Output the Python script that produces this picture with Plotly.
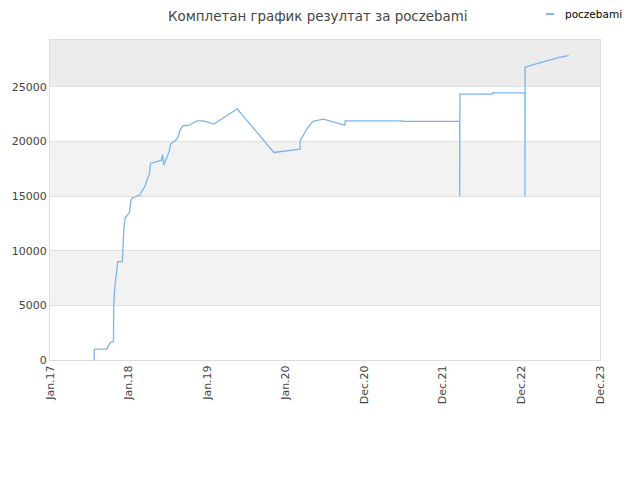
import plotly.graph_objects as go

# score history (dates)
dates = [
    "2017-07-25", "2017-07-26", "2017-08-05", "2017-09-24", "2017-09-28",
    "2017-10-11", "2017-10-23", "2017-10-24", "2017-10-29", "2017-11-05",
    "2017-11-12", "2017-12-03", "2017-12-05", "2017-12-10", "2017-12-16",
    "2017-12-29", "2018-01-05", "2018-01-13", "2018-01-16", "2018-02-22",
    "2018-03-18", "2018-04-02", "2018-04-08", "2018-04-13", "2018-05-08",
    "2018-06-03", "2018-06-08", "2018-06-14", "2018-07-09", "2018-07-15",
    "2018-08-09", "2018-08-20", "2018-08-28", "2018-09-12", "2018-10-13",
    "2018-10-26", "2018-11-16", "2018-12-14", "2019-02-02", "2019-05-21",
    "2019-11-07", "2020-03-08", "2020-03-09", "2020-04-15", "2020-05-08",
    "2020-06-24", "2020-10-02", "2020-10-04", "2021-06-28", "2021-06-29",
    "2022-03-20", "2022-03-20", "2022-03-21", "2022-08-19", "2022-08-20",
    "2023-01-17", "2023-01-17", "2023-01-18", "2023-02-10", "2023-03-25",
    "2023-05-10", "2023-06-25", "2023-08-09",
]
scores = [
    0, 950, 1000, 1000, 1300,
    1650, 1700, 4900, 6600, 8000,
    9000, 9000, 10400, 11900, 13000,
    13400, 13500, 14650, 14800, 15100,
    15900, 16800, 17000, 18000, 18150,
    18300, 18800, 17850, 19100, 19750,
    20150, 20450, 21050, 21450, 21500,
    21700, 21900, 21900, 21600, 23000,
    19000, 19300, 20100, 21350, 21850,
    22050, 21500, 21900, 21900, 21850,
    21850, 15000, 24350, 24350, 24450,
    24450, 15000, 26800, 26950, 27200,
    27450, 27700, 27870,
]

tick_dates = ["2017-01-01", "2018-01-01", "2019-01-01", "2020-01-01",
              "2021-01-01", "2022-01-01", "2023-01-01", "2024-01-01"]
tick_labels = ["Jan.17", "Jan.18", "Jan.19", "Jan.20",
               "Dec.20", "Dec.21", "Dec.22", "Dec.23"]

y_top = 29300
line_col = "#7cb5ec"

fig = go.Figure()
fig.add_trace(go.Scatter(x=dates, y=scores, mode="lines", name="poczebami",
                         line=dict(color=line_col, width=1.3), showlegend=False))

# alternating bands
for y0, y1, col in [(5000, 10000, "#f2f2f2"), (15000, 20000, "#f2f2f2"),
                    (25000, y_top, "#ececec")]:
    fig.add_shape(type="rect", xref="paper", yref="y", x0=0, x1=1, y0=y0, y1=y1,
                  fillcolor=col, line_width=0, layer="below")

# small legend in the top right corner
fig.add_shape(type="line", xref="paper", yref="paper", x0=0.902, x1=0.9165,
              y0=1.081, y1=1.081, line=dict(color=line_col, width=2))
fig.add_annotation(text="poczebami", xref="paper", yref="paper", x=0.933, y=1.081,
                   xanchor="left", yanchor="middle", showarrow=False,
                   font=dict(size=10.5, color="#000"))

fig.update_xaxes(type="date", range=["2017-01-01", "2024-01-01"],
                 tickvals=tick_dates, ticktext=tick_labels, tickangle=-90,
                 showgrid=False, showline=True, linecolor="#dddddd", mirror=True,
                 ticks="", automargin=False, tickfont=dict(size=11, color="#444"))
fig.update_yaxes(range=[0, y_top], tickvals=[0, 5000, 10000, 15000, 20000, 25000],
                 tickformat="d", showgrid=True, gridcolor="#e0e0e0", zeroline=False,
                 showline=True, linecolor="#dddddd", mirror=True,
                 automargin=False, tickfont=dict(size=11, color="#444"))

fig.update_layout(
    width=640, height=480,
    margin=dict(l=42, r=48, t=32, b=128, autoexpand=False),
    paper_bgcolor="white", plot_bgcolor="white",
    font=dict(family="DejaVu Sans", size=11, color="#333"),
    title=dict(text="Комплетан график резултат за poczebami", x=0.484, y=0.982,
               xanchor="center", yanchor="middle",
               font=dict(size=13.4, color="#444")),
    showlegend=False,
)

fig.write_html("out.html")
